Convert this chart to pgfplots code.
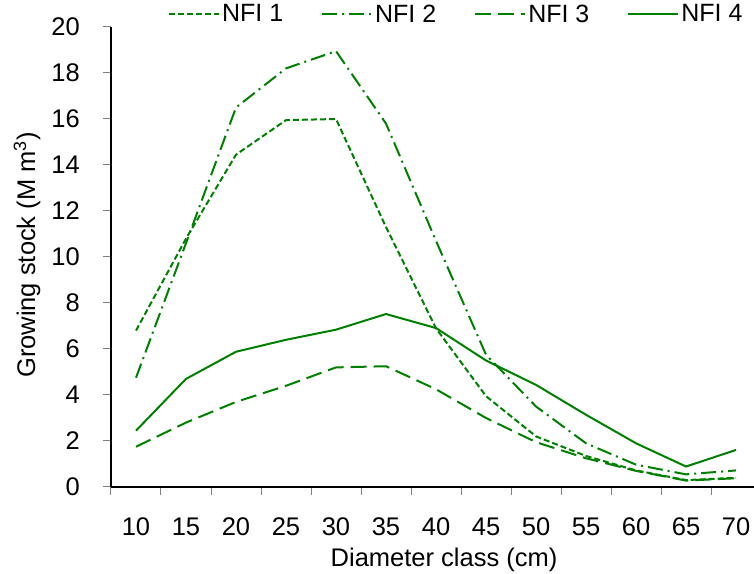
\documentclass[border=0pt]{standalone}
\usepackage{pgfplots}
\pgfplotsset{compat=1.18}
\usepackage{fontspec}
\setmainfont{Liberation Sans}
\definecolor{grn}{RGB}{0,128,0}
\begin{document}
\begin{tikzpicture}
\begin{axis}[
  name=ax,
  scale only axis, width=643pt, height=460pt,
  xmin=7.5, xmax=71.8, ymin=0, ymax=20,
  axis x line*=bottom, axis y line*=left,
  axis line style={black, line width=1.3pt},
  xtick={10,15,...,70},
  minor xtick={7.5,12.5,...,67.5},
  major x tick style={draw=none},
  ytick={0,2,...,20},
  tick align=outside,
  major tick length=8pt, minor tick length=8pt,
  tick style={gray, line width=1pt},
  /pgf/number format/assume math mode=true,
  every tick label/.append style={font=\fontsize{25.5}{30}\selectfont},
  yticklabel style={anchor=east, inner sep=0pt, xshift=-23pt},
  xticklabel style={anchor=base, inner sep=0pt, yshift=-41pt},
  every axis y label/.style={at={(rel axis cs:0,0.5)}, xshift=-84pt, yshift=2pt, rotate=90, anchor=center, font=\fontsize{25.5}{30}\selectfont},
  every axis x label/.style={at={(rel axis cs:0.518,0)}, yshift=-80pt, anchor=base, font=\fontsize{25.5}{30}\selectfont},
  xlabel={Diameter class (cm)},
  ylabel={Growing stock (M m\textsuperscript{3})},
  legend columns=4,
  legend style={at={(0.537,1.028)}, anchor=center, draw=none, fill=none,
    font=\fontsize{25}{30}\selectfont,
    /tikz/every even column/.append style={column sep=36pt}},
  legend image code/.code={\draw[#1] (0pt,0pt) -- (50pt,0pt);},
  every axis plot/.append style={grn, line width=2pt, line join=round, no markers},
  clip=false,
]
\addplot[dash pattern=on 6pt off 3pt] coordinates {
 (10,6.8) (15,10.8) (20,14.45) (25,15.95) (30,16.0) (35,11.3) (40,6.9) (45,3.95) (50,2.2) (55,1.35) (60,0.72) (65,0.3) (70,0.4)};
\addlegendentry{NFI 1}
\addplot[dash pattern=on 15pt off 5pt on 2pt off 5pt] coordinates {
 (10,4.75) (15,10.6) (20,16.5) (25,18.2) (30,18.95) (35,15.8) (40,10.7) (45,5.75) (50,3.5) (55,1.9) (60,0.97) (65,0.55) (70,0.72)};
\addlegendentry{NFI 2}
\addplot[dash pattern=on 16pt off 7pt] coordinates {
 (10,1.75) (15,2.8) (20,3.7) (25,4.4) (30,5.2) (35,5.25) (40,4.25) (45,3.0) (50,1.95) (55,1.25) (60,0.7) (65,0.28) (70,0.38)};
\addlegendentry{NFI 3}
\addplot[solid] coordinates {
 (10,2.45) (15,4.7) (20,5.88) (25,6.4) (30,6.84) (35,7.52) (40,6.91) (45,5.5) (50,4.44) (55,3.14) (60,1.9) (65,0.89) (70,1.61)};
\addlegendentry{NFI 4}
\end{axis}
\pgfresetboundingbox
\path[use as bounding box] ([xshift=-111pt,yshift=-87pt]ax.south west) rectangle ([yshift=27pt]ax.north east);
\end{tikzpicture}
\end{document}
